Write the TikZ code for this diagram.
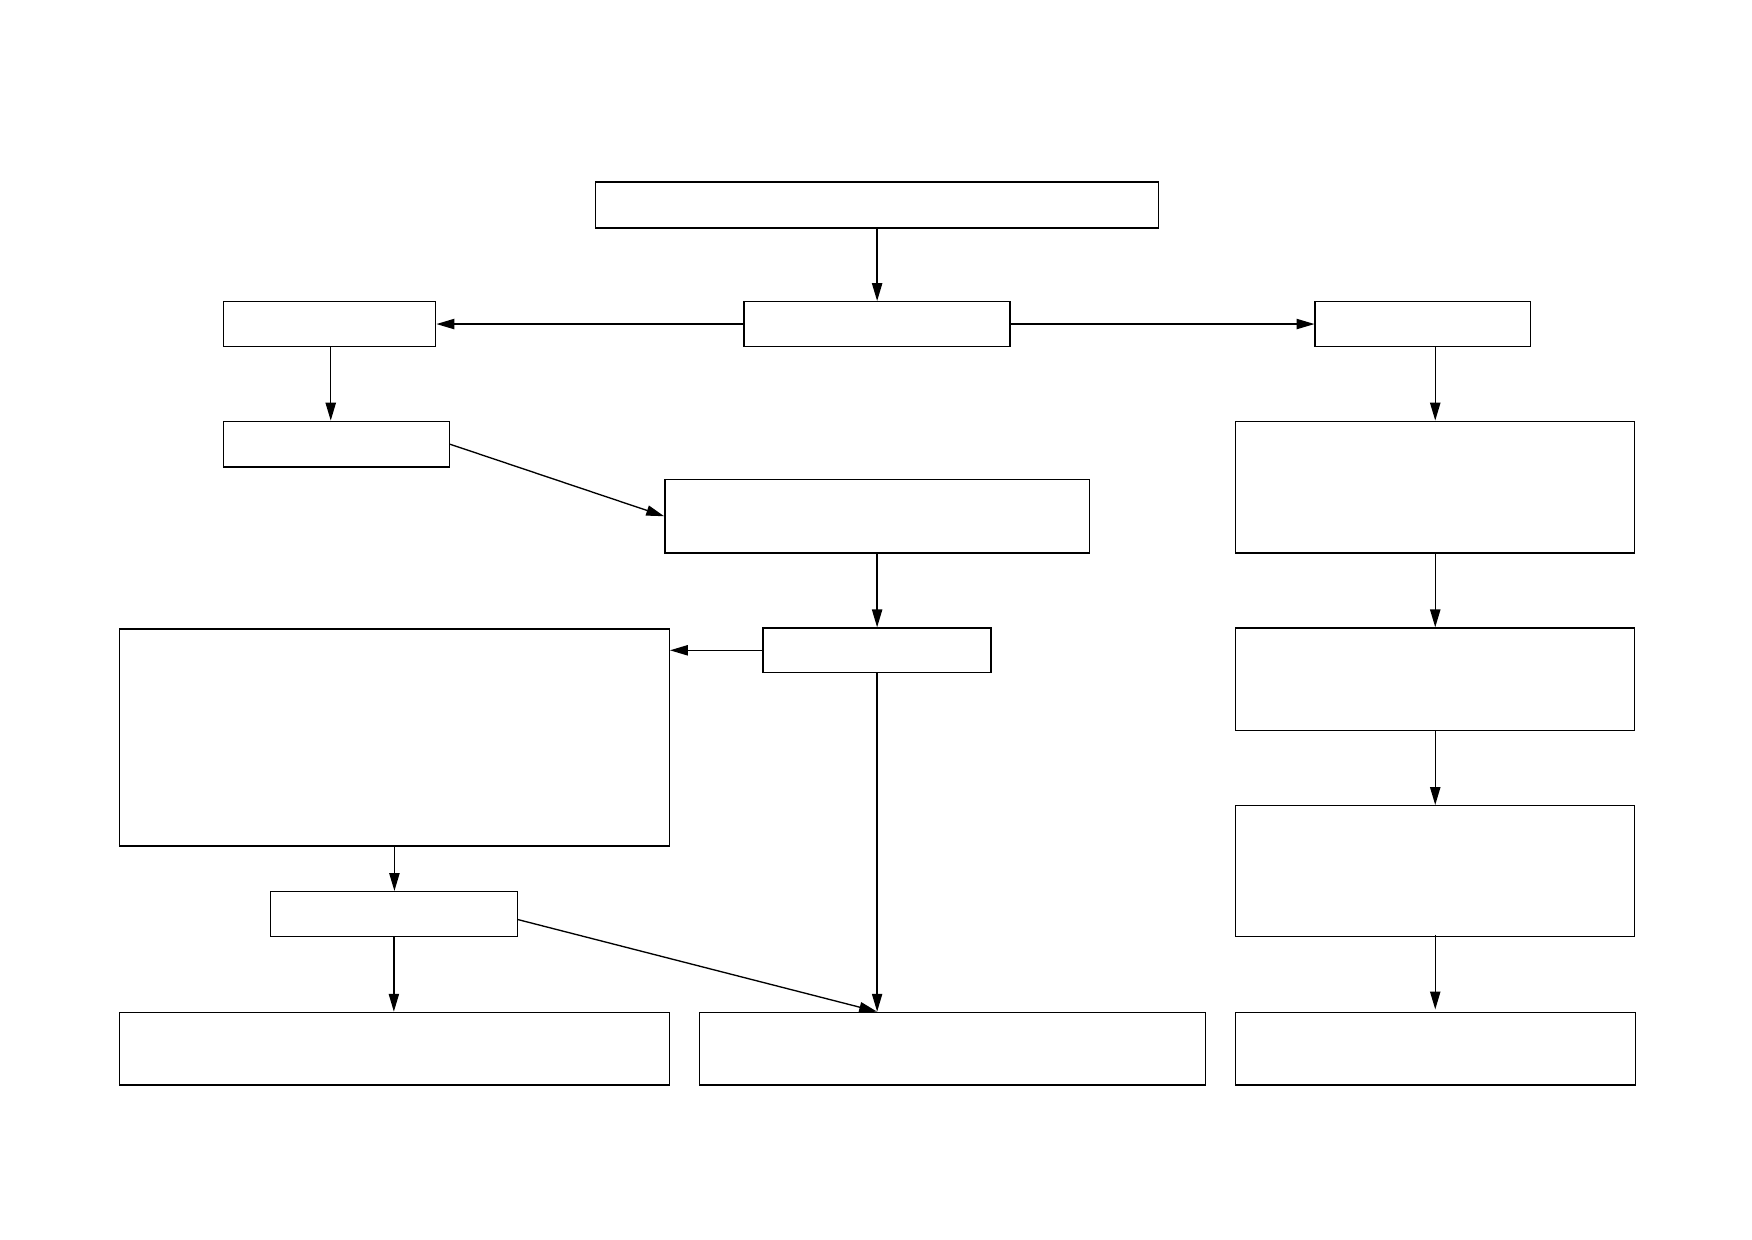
\documentclass[tikz,border=0pt]{standalone}
\usetikzlibrary{arrows.meta}
\begin{document}
\begin{tikzpicture}[x=1pt,y=1pt,
  box/.style={draw, line width=0.6pt, inner sep=0pt, rectangle},
  conn/.style={line width=0.6pt, -{Triangle[length=8pt,width=4.6pt]}}]
\useasboundingbox[fill=white] (0,0) rectangle (784,-554.5);
\node[box, minimum width=252pt, minimum height=20.5pt] (top) at (392.5,-91.75) {};
\node[box, minimum width=119pt, minimum height=20pt] (mid) at (392.5,-145) {};
\node[box, minimum width=95pt, minimum height=20pt] (left1) at (147.5,-145) {};
\node[box, minimum width=96.5pt, minimum height=20pt] (right1) at (636.75,-145) {};
\node[box, minimum width=101pt, minimum height=20.5pt] (left2) at (150.5,-198.75) {};
\node[box, minimum width=190pt, minimum height=33pt] (center) at (392.5,-231) {};
\node[box, minimum width=178.5pt, minimum height=59pt] (right2) at (642.25,-218) {};
\node[box, minimum width=102pt, minimum height=20pt] (center2) at (392.5,-291) {};
\node[box, minimum width=246pt, minimum height=97pt] (bigleft) at (176.5,-330) {};
\node[box, minimum width=178.5pt, minimum height=46pt] (right3) at (642.25,-304) {};
\node[box, minimum width=178.5pt, minimum height=58.5pt] (right4) at (642.25,-389.75) {};
\node[box, minimum width=110.5pt, minimum height=20pt] (smallleft) at (176.25,-409) {};
\node[box, minimum width=246pt, minimum height=32.5pt] (bottomL) at (176.5,-469.25) {};
\node[box, minimum width=226.5pt, minimum height=32.5pt] (bottomM) at (426.25,-469.25) {};
\node[box, minimum width=179pt, minimum height=32.5pt] (bottomR) at (642.5,-469.25) {};

\draw[conn] (top.south) -- (mid.north);
\draw[conn] (mid.west) -- (left1.east);
\draw[conn] (mid.east) -- (right1.west);
\draw[conn] ([xshift=0.5pt]left1.south) -- ([xshift=0.5pt]left1.south |- left2.north);
\draw[conn] (left2.east) -- (center.west);
\draw[conn] (center.south) -- (center2.north);
\draw[conn] (center2.west) -- (bigleft.east |- center2.west);
\draw[conn] (center2.south) -- (center2.south |- bottomM.north);
\draw[conn] (bigleft.south) -- (bigleft.south |- smallleft.north);
\draw[conn] ([yshift=-2.5pt]smallleft.east) -- (center2.south |- bottomM.north);
\draw[conn] (smallleft.south) -- (smallleft.south |- bottomL.north);
\draw[conn] (right2.north |- right1.south) -- (right2.north);
\draw[conn] (right2.south) -- (right3.north);
\draw[conn] (right3.south) -- (right4.north);
\draw[conn, shorten <=-1pt, shorten >=1pt] (right4.south) -- (right4.south |- bottomR.north);
\end{tikzpicture}
\end{document}
